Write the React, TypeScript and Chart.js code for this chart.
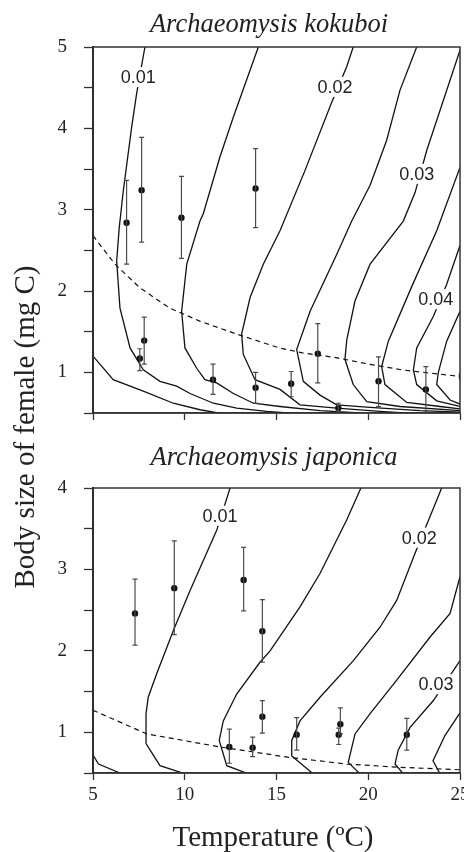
import React, { useEffect, useRef } from 'react';
import { Chart, registerables } from 'chart.js';
Chart.register(...registerables);

type Pt = [number, number];

// ---------- axis ticks ----------
const xTickValues = [5, 10, 15, 20, 25];
const kokuboiYTickLabels = [1, 2, 3, 4, 5];
const japonicaYTickLabels = [1, 2, 3, 4];

// ---------- Archaeomysis kokuboi : observations ----------
const kokuboiTemp = [6.83, 7.65, 9.82, 13.86, 7.55, 7.79, 11.54, 13.86, 15.8, 17.25, 18.37, 20.56, 23.14];
const kokuboiSize = [2.84, 3.24, 2.9, 3.26, 1.17, 1.39, 0.91, 0.81, 0.86, 1.23, 0.56, 0.89, 0.79];
const kokuboiLow = [2.33, 2.6, 2.4, 2.78, 1.02, 1.1, 0.73, 0.62, 0.7, 0.87, 0.52, 0.58, 0.51];
const kokuboiHigh = [3.36, 3.89, 3.41, 3.75, 1.29, 1.68, 1.1, 1.0, 1.01, 1.6, 0.62, 1.19, 1.07];

// ---------- Archaeomysis kokuboi : contour lines ----------
const kokuboiC0: Pt[] = [[5.0, 1.2], [6.1, 0.91], [7.74, 0.77], [9.38, 0.62], [10.83, 0.54], [12.1, 0.49]];
const kokuboiC1: Pt[] = [[7.83, 5.0], [7.38, 4.43], [7.11, 4.02], [6.65, 3.23], [6.43, 2.78], [6.29, 2.37], [6.47, 1.79], [7.02, 1.3], [7.74, 1.03], [8.65, 0.89], [9.56, 0.83], [10.29, 0.74], [11.56, 0.62], [12.83, 0.56], [14.47, 0.52], [16.3, 0.49]];
const kokuboiC2: Pt[] = [[14.01, 5.0], [12.65, 4.14], [11.92, 3.65], [11.01, 2.95], [10.83, 2.86], [10.11, 2.33], [9.83, 1.75], [10.01, 1.3], [10.65, 1.05], [11.1, 0.91], [11.74, 0.87], [12.65, 0.74], [13.74, 0.62], [15.19, 0.58], [17.37, 0.53], [19.55, 0.5]];
const kokuboiC3: Pt[] = [[19.18, 5.0], [18.83, 4.76], [18.01, 4.32], [16.55, 3.48], [15.19, 2.74], [14.28, 2.33], [13.56, 1.92], [13.1, 1.47], [13.19, 1.22], [13.83, 0.91], [15.19, 0.79], [16.28, 0.6], [18.28, 0.56], [20.64, 0.52], [22.82, 0.49]];
const kokuboiC4: Pt[] = [[22.64, 5.0], [21.73, 4.47], [21.0, 3.85], [20.1, 3.3], [19.1, 2.86], [18.28, 2.45], [16.83, 1.75], [16.1, 1.28], [16.46, 0.89], [17.37, 0.72], [18.28, 0.6], [20.1, 0.57], [22.82, 0.53], [25.0, 0.51]];
const kokuboiC5: Pt[] = [[25.0, 4.96], [23.19, 3.73], [22.55, 3.21], [21.91, 2.86], [20.1, 2.33], [19.28, 1.88], [18.83, 1.4], [18.73, 1.16], [19.18, 0.85], [19.92, 0.64], [21.73, 0.58], [25.0, 0.53]];
const kokuboiC6: Pt[] = [[25.0, 3.52], [23.73, 2.74], [22.38, 2.06], [21.09, 1.38], [20.73, 1.07], [20.91, 0.85], [22.1, 0.63], [23.91, 0.58], [25.0, 0.55]];
const kokuboiC7: Pt[] = [[25.0, 2.56], [24.27, 2.08], [23.55, 1.69], [22.64, 1.3], [22.46, 1.03], [22.64, 0.85], [23.73, 0.65], [25.0, 0.58]];
const kokuboiC8: Pt[] = [[25.0, 1.75], [24.27, 1.38], [23.82, 1.0], [23.73, 0.85], [24.46, 0.66], [25.0, 0.61]];
const kokuboiMaturity: Pt[] = [[5.0, 2.68], [6.2, 2.33], [7.55, 2.04], [9.18, 1.79], [10.82, 1.63], [12.83, 1.47], [15.16, 1.3], [16.41, 1.24], [18.26, 1.18], [20.05, 1.1], [21.85, 1.03], [25.0, 0.95]];
const kokuboiContourText = ['0.01', '0.02', '0.03', '0.04', '0.05'];
const kokuboiContourTextX = [7.47, 18.19, 22.64, 23.68, 25.84];
const kokuboiContourTextY = [4.63, 4.51, 3.44, 1.9, 0.94];

// ---------- Archaeomysis japonica : observations ----------
const japonicaTemp = [7.29, 9.43, 13.21, 14.23, 14.23, 12.43, 13.7, 16.1, 18.39, 18.48, 22.1];
const japonicaSize = [2.46, 2.77, 2.87, 2.24, 1.19, 0.82, 0.81, 0.97, 0.97, 1.1, 0.97];
const japonicaLow = [2.07, 2.2, 2.49, 1.86, 0.99, 0.62, 0.7, 0.78, 0.85, 0.98, 0.78];
const japonicaHigh = [2.88, 3.35, 3.27, 2.63, 1.39, 1.04, 0.94, 1.18, 1.05, 1.3, 1.17];

// ---------- Archaeomysis japonica : contour lines ----------
const japonicaC0: Pt[] = [[5.0, 0.72], [5.3, 0.61], [6.47, 0.5]];
const japonicaC1: Pt[] = [[12.47, 4.0], [11.74, 3.48], [10.29, 2.74], [9.38, 2.25], [8.47, 1.72], [8.01, 1.43], [7.89, 1.23], [7.89, 0.86], [8.65, 0.59], [10.01, 0.49]];
const japonicaC2: Pt[] = [[19.6, 4.0], [18.83, 3.61], [17.37, 2.95], [16.28, 2.54], [14.65, 2.0], [14.1, 1.86], [12.83, 1.47], [12.1, 1.14], [11.88, 0.9], [12.29, 0.59], [13.46, 0.49]];
const japonicaC3: Pt[] = [[24.0, 4.0], [22.55, 3.2], [21.55, 2.62], [20.64, 2.29], [19.19, 1.88], [17.37, 1.43], [16.28, 1.14], [15.83, 0.9], [15.83, 0.71], [17.0, 0.49]];
const japonicaC4: Pt[] = [[25.0, 2.91], [24.46, 2.46], [23.37, 2.17], [21.55, 1.64], [20.1, 1.23], [19.28, 0.98], [18.91, 0.63], [19.55, 0.49]];
const japonicaC5: Pt[] = [[25.0, 1.88], [23.55, 1.39], [22.28, 1.06], [21.63, 0.78], [21.46, 0.61], [21.91, 0.49]];
const japonicaC6: Pt[] = [[25.0, 1.24], [24.18, 0.96], [23.53, 0.65], [23.91, 0.49]];
const japonicaMaturity: Pt[] = [[5.0, 1.27], [7.93, 0.98], [11.92, 0.82], [15.74, 0.69], [18.83, 0.61], [21.73, 0.57], [25.0, 0.54]];
const japonicaContourText = ['0.01', '0.02', '0.03'];
const japonicaContourTextX = [11.92, 22.78, 23.69];
const japonicaContourTextY = [3.66, 3.39, 1.59];

const SERIF = '"Liberation Serif", "Times New Roman", serif';
const SANS = '"Liberation Sans", Arial, sans-serif';

const panelPlugin = {
  id: 'panelPlugin',
  afterDatasetsDraw(chart: any, _a: any, opts: any) {
    const { ctx, chartArea, scales } = chart;
    const xs = scales.x, ys = scales.y;
    ctx.save();
    ctx.beginPath();
    ctx.rect(chartArea.left, chartArea.top, chartArea.right - chartArea.left, chartArea.bottom - chartArea.top);
    ctx.clip();
    ctx.font = `18px ${SANS}`;
    ctx.textAlign = 'center';
    ctx.textBaseline = 'middle';
    const texts: string[] = opts.texts || [];
    texts.forEach((t, i) => {
      const px = xs.getPixelForValue(opts.textX[i]);
      const py = ys.getPixelForValue(opts.textY[i]);
      const w = ctx.measureText(t).width + 4;
      ctx.fillStyle = '#ffffff';
      ctx.fillRect(px - w / 2, py - 10, w, 20);
      ctx.fillStyle = '#222';
      ctx.fillText(t, px, py + 1);
    });
    ctx.restore();
    ctx.save();
    ctx.strokeStyle = '#4a4a4a';
    ctx.lineWidth = 1.2;
    const temps: number[] = opts.temp;
    temps.forEach((t, i) => {
      const px = xs.getPixelForValue(t);
      const lo = ys.getPixelForValue(opts.low[i]);
      const hi = ys.getPixelForValue(opts.high[i]);
      ctx.beginPath();
      ctx.moveTo(px, lo); ctx.lineTo(px, hi);
      ctx.moveTo(px - 2.5, lo); ctx.lineTo(px + 2.5, lo);
      ctx.moveTo(px - 2.5, hi); ctx.lineTo(px + 2.5, hi);
      ctx.stroke();
    });
    ctx.restore();
  },
  afterDraw(chart: any, _a: any, opts: any) {
    const { ctx, chartArea } = chart;
    ctx.save();
    ctx.strokeStyle = '#333';
    ctx.lineWidth = 1.5;
    ctx.strokeRect(chartArea.left, chartArea.top, chartArea.right - chartArea.left, chartArea.bottom - chartArea.top);
    ctx.font = `italic 26.5px ${SERIF}`;
    ctx.fillStyle = '#222';
    ctx.textAlign = 'center';
    ctx.textBaseline = 'alphabetic';
    ctx.fillText(opts.title, opts.titleX, opts.titleY);
    ctx.restore();
  },
};

function lineDs(pts: Pt[], dashed = false) {
  return {
    data: pts.map(([x, y]) => ({ x, y })),
    showLine: true,
    pointRadius: 0,
    borderColor: '#111',
    borderWidth: dashed ? 1.2 : 1.3,
    borderDash: dashed ? [5, 4] : [],
    fill: false,
    tension: 0,
  };
}

function makeConfig(p: any) {
  return {
    type: 'scatter',
    data: {
      datasets: [
        ...p.contours.map((c: Pt[]) => lineDs(c)),
        lineDs(p.maturity, true),
        {
          data: p.temp.map((t: number, i: number) => ({ x: t, y: p.size[i] })),
          pointRadius: 3.2,
          pointBackgroundColor: '#111',
          pointBorderWidth: 0,
          showLine: false,
        },
      ],
    },
    options: {
      animation: false,
      responsive: false,
      maintainAspectRatio: false,
      layout: { padding: { top: p.padTop, right: 3, left: 0, bottom: 0 } },
      plugins: {
        legend: { display: false },
        tooltip: { enabled: false },
        panelPlugin: {
          title: p.title, titleX: p.titleX, titleY: p.titleY,
          texts: p.texts, textX: p.textX, textY: p.textY,
          temp: p.temp, low: p.low, high: p.high,
        },
      },
      scales: {
        x: {
          type: 'linear',
          min: 5, max: 25,
          afterBuildTicks: (s: any) => { s.ticks = xTickValues.map((v) => ({ value: v })); },
          ticks: {
            autoSkip: false,
            maxRotation: 0,
            padding: 4,
            color: '#222',
            font: { family: SERIF, size: 19 },
            callback: (v: any) => (p.showX ? String(v) : ''),
          },
          grid: { drawOnChartArea: false, tickLength: 7, tickColor: '#333', tickWidth: 1.3 },
          border: { color: '#333', width: 1.5 },
          afterFit: (s: any) => { s.height = p.xHeight; s.paddingLeft = 0; s.paddingRight = 0; },
        },
        y: {
          type: 'linear',
          min: 0.5, max: p.yMax,
          ticks: {
            stepSize: 0.5,
            autoSkip: false,
            padding: 17,
            color: '#222',
            font: { family: SERIF, size: 19 },
            callback: (v: any) => (p.yLabels.includes(v) ? String(v) : ''),
          },
          grid: { drawOnChartArea: false, tickLength: 9, tickColor: '#333', tickWidth: 1.3 },
          border: { color: '#222', width: 2 },
          afterFit: (s: any) => { s.width = 93; s.paddingTop = 0; s.paddingBottom = 0; },
        },
      },
    },
    plugins: [panelPlugin],
  };
}

export default function App() {
  const topRef = useRef<HTMLCanvasElement>(null);
  const botRef = useRef<HTMLCanvasElement>(null);

  useEffect(() => {
    const top = new Chart(topRef.current as any, makeConfig({
      contours: [kokuboiC0, kokuboiC1, kokuboiC2, kokuboiC3, kokuboiC4, kokuboiC5, kokuboiC6, kokuboiC7, kokuboiC8],
      maturity: kokuboiMaturity,
      temp: kokuboiTemp, size: kokuboiSize, low: kokuboiLow, high: kokuboiHigh,
      texts: kokuboiContourText, textX: kokuboiContourTextX, textY: kokuboiContourTextY,
      title: 'Archaeomysis kokuboi', titleX: 269, titleY: 32,
      padTop: 47, xHeight: 7, showX: false, yMax: 5, yLabels: kokuboiYTickLabels,
    }) as any);
    const bot = new Chart(botRef.current as any, makeConfig({
      contours: [japonicaC0, japonicaC1, japonicaC2, japonicaC3, japonicaC4, japonicaC5, japonicaC6],
      maturity: japonicaMaturity,
      temp: japonicaTemp, size: japonicaSize, low: japonicaLow, high: japonicaHigh,
      texts: japonicaContourText, textX: japonicaContourTextX, textY: japonicaContourTextY,
      title: 'Archaeomysis japonica', titleX: 274, titleY: 45,
      padTop: 68, xHeight: 79, showX: true, yMax: 4, yLabels: japonicaYTickLabels,
    }) as any);
    return () => { top.destroy(); bot.destroy(); };
  }, []);

  return (
    <div style={{ position: 'fixed', left: 0, top: 0, width: 464, height: 852, background: '#fff', overflow: 'hidden' }}>
      <canvas ref={topRef} width={464} height={420} style={{ position: 'absolute', left: 0, top: 0, display: 'block' }} />
      <canvas ref={botRef} width={464} height={432} style={{ position: 'absolute', left: 0, top: 420, display: 'block' }} />
      <div
        style={{
          position: 'absolute', left: 23.5 - 250, top: 427 - 15, width: 500, height: 30,
          lineHeight: '30px', textAlign: 'center', transform: 'rotate(-90deg)',
          fontFamily: SERIF, fontSize: 29, color: '#222', whiteSpace: 'nowrap',
        }}
      >
        Body size of female (mg C)
      </div>
      <div
        style={{
          position: 'absolute', left: 273 - 200, top: 821, width: 400, height: 30,
          lineHeight: '30px', textAlign: 'center',
          fontFamily: SERIF, fontSize: 29, color: '#222', whiteSpace: 'nowrap',
        }}
      >
        Temperature (ºC)
      </div>
    </div>
  );
}
